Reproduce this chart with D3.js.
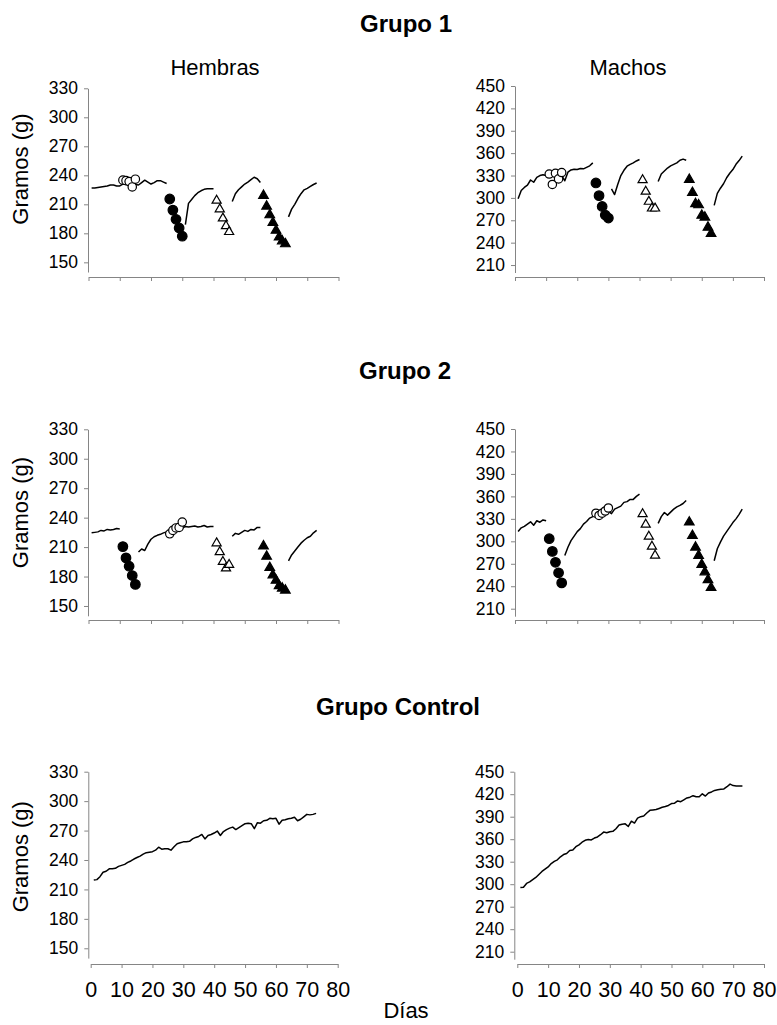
<!DOCTYPE html>
<html><head><meta charset="utf-8">
<script src="https://cdn.jsdelivr.net/npm/d3@7"></script>
<style>
body{margin:0;background:#fff}
svg{display:block}
text{font-family:Arial,"Liberation Sans",Helvetica,sans-serif;fill:#000}
</style>
</head><body>
<svg id="c" width="777" height="1025"></svg>
<script>
// ---------- tick labels ----------
const xTicks = [0,10,20,30,40,50,60,70,80];
const yTicksH = [150,180,210,240,270,300,330];
const yTicksM = [210,240,270,300,330,360,390,420,450];

// ---------- Grupo 1 – Hembras ----------
const g1H_line1 = [227,227,227.5,228,228.5,229,230,230,229,229,231,231,231,231,230.5,230,232.5,235,233,231,232.5,234.5,234.5,233,231.5]; // days 1-25
const g1H_openCirc = [235,234.5,233.5,228,236];            // days 11-15
const g1H_fillCirc = [215.5,204,194.5,185.5,177];          // days 26-30
const g1H_line2 = [189,211,215,219,222,224,225.5,226,226,226]; // days 31-40
const g1H_openTri = [214,205,195.5,187.5,181.5];           // days 41-45
const g1H_line3 = [213,221,225,228,231,233,235.5,238,236.5,232.5]; // days 46-55
const g1H_fillTri = [219,208,199,191,183,176,172,169];     // days 56-63
const g1H_line4 = [197,205,210,216,221,225,226.5,228.5,230.5,232]; // days 64-73

// ---------- Grupo 1 – Machos ----------
const g1M_line1 = [299,310,314,317,324,321,327.5,330,331,330,331,332,333,333,330,323,334.5,337.5,338.5,338,339.5,339,341,343,347]; // days 1-25
const g1M_openCirc = [332,318,333,325.5,334];              // days 11-15
const g1M_fillCirc = [320,303,288.5,277,273];              // days 26-30
const g1M_line2 = [312,304.5,318,330,337,342.5,345,347,349.5,351.5]; // days 31-40
const g1M_openTri = [324,308.5,295,286,286];               // days 41-45
const g1M_line3 = [322,332,336,340,343,345,347,350.5,352,350.5]; // days 46-55
const g1M_fillTri = [324.5,307,292,290.5,276.5,274,260.5,252]; // days 56-63
const g1M_line4 = [290,306,313,319,327,333,338,345,350,356]; // days 64-73

// ---------- Grupo 2 – Hembras ----------
const g2H_line1 = [224.5,225,225.5,227,226.5,228,227.5,228,229,228.5]; // days 1-10
const g2H_fillCirc = [210.5,199,190.5,181,172];            // days 11-15
const g2H_line2 = [205,208,206.5,213,218,220.5,222,223,224.5,225.5,226.5,227,228,229,229.5,231,230.5,231,231.5,230.5,231,232,230.5,231,231]; // days 16-40
const g2H_openCirc = [223.5,227,229.5,230,235.5];          // days 26-30
const g2H_openTri = [214,205,195,188.5,192];               // days 41-45
const g2H_line3 = [221,224,223,225,227,226,228,227.5,230,230]; // days 46-55
const g2H_fillTri = [211,200.5,189,181.5,176,170.5,168,166]; // days 56-63
const g2H_line4 = [196,202,206,210,214,217,219.5,221,224.5,227]; // days 64-73

// ---------- Grupo 2 – Machos ----------
const g2M_line1 = [313,318,320,323,326,321.5,327.5,325.5,328.5,327.5]; // days 1-10
const g2M_fillCirc = [303.5,286.5,272,258,244.5];          // days 11-15
const g2M_line2 = [281,292,301,307,313,317,323,326.5,331,333,334,335,337,339,340,337,343,345,347,352,353,356,356,360,363]; // days 16-40
const g2M_openCirc = [337.5,334.5,337.5,340.5,344.5];      // days 26-30
const g2M_openTri = [336.5,322.5,306.5,293,281];           // days 41-45
const g2M_line3 = [324,333,338.5,335,339,343,346,348,350.5,354.5]; // days 46-55
const g2M_fillTri = [325.5,307.5,292,281,269,259,248.5,238]; // days 56-63
const g2M_line4 = [274,290,299,307,313,319,325,330,336,343]; // days 64-73

// ---------- Grupo Control ----------
const ctlH = [219.5,220,223,227.5,228.5,231,231,231.5,233.5,234.5,235.5,237.5,239,241,242.5,244,246,247.5,248,248.5,
  250,253,251,251.5,251.5,250,253.5,256.5,257.5,258.5,258.5,259,261.5,263,264,266,261.5,265,266,267.5,
  269.5,265,269,271,272.5,273.5,271,273,275,277,277.5,277,272,278,277.5,280,280.5,282.5,282,282.5,
  276.5,280.5,281,282,282.5,283.5,280,281.5,284,286.5,286,286.5,287.5]; // days 1-73
const ctlM = [295.5,296,301,303,306,309,313,317,320,323,327.5,330.5,332.5,336.5,339.5,341,345,345.5,350,352.5,
  356,358.5,359.5,359,361.5,363,366,369.5,368.5,370,370.5,374,379,380,380.5,377,384,381.5,388,390,
  391,395,398.5,399,399.5,401,402.5,403.5,405,407.5,408,411,410,412.5,415,416,418,416.5,416.5,420.5,
  417.5,421.5,423,425,426,426.5,427,430,433.5,431.5,431,431,431]; // days 1-73

// ---------- drawing ----------
const svg = d3.select("#c");
const AX = "#858585";

function panel(p){
  const x = d3.scaleLinear().domain([0,80]).range(p.xr);
  const y = d3.scaleLinear().domain(p.yd).range(p.yr);
  const g = svg.append("g");

  const ya = g.append("g").attr("transform",`translate(${p.ax},0)`)
    .call(d3.axisLeft(y).tickValues(p.yt).tickSize(4).tickSizeOuter(0).tickPadding(6));
  ya.selectAll("path,line").attr("stroke",AX).attr("stroke-width",1);
  ya.selectAll("text").attr("font-size","17.5px").attr("fill","#000")
    .style("font-family","Arial, 'Liberation Sans', sans-serif");

  const xa = g.append("g").attr("transform",`translate(0,${p.xy})`)
    .call(d3.axisBottom(x).tickValues(xTicks).tickSize(4).tickSizeOuter(0)
      .tickFormat(p.lab ? d3.format("d") : () => ""));
  xa.selectAll("path,line").attr("stroke",AX).attr("stroke-width",1);
  xa.selectAll("text").attr("font-size","21.5px").attr("fill","#000").attr("dy",null).attr("y",33)
    .style("font-family","Arial, 'Liberation Sans', sans-serif");

  const line = d3.line().x(d => x(d[0])).y(d => y(d[1]));
  p.lines.forEach(([s, vals]) => {
    g.append("path").datum(vals.map((v,i) => [s+i, v]))
      .attr("d", line).attr("fill","none").attr("stroke","#000")
      .attr("stroke-width",1.5).attr("stroke-linejoin","round");
  });

  const shapes = {
    fc: {sym: d3.symbolCircle, size: 72, fill: "#000"},
    oc: {sym: d3.symbolCircle, size: 55, fill: "#fff"},
    ft: {sym: d3.symbolTriangle, size: 40, fill: "#000"},
    ot: {sym: d3.symbolTriangle, size: 36, fill: "#fff"}
  };
  p.marks.forEach(([s, vals, type]) => {
    const sh = shapes[type];
    g.selectAll(null).data(vals.map((v,i) => [s+i, v])).enter().append("path")
      .attr("transform", d => `translate(${x(d[0])},${y(d[1])})`)
      .attr("d", d3.symbol(sh.sym, sh.size))
      .attr("fill", sh.fill).attr("stroke","#000").attr("stroke-width",1.2);
  });
}

// Row 1 – Grupo 1
panel({xr:[88.5,338.5], ax:88, yd:[140,330], yr:[272,88.3], yt:yTicksH, xy:277, lab:false,
  lines:[[1,g1H_line1],[31,g1H_line2],[46,g1H_line3],[64,g1H_line4]],
  marks:[[11,g1H_openCirc,"oc"],[26,g1H_fillCirc,"fc"],[41,g1H_openTri,"ot"],[56,g1H_fillTri,"ft"]]});
panel({xr:[515,764], ax:515, yd:[200,450], yr:[272.5,86], yt:yTicksM, xy:277, lab:false,
  lines:[[1,g1M_line1],[31,g1M_line2],[46,g1M_line3],[64,g1M_line4]],
  marks:[[11,g1M_openCirc,"oc"],[26,g1M_fillCirc,"fc"],[41,g1M_openTri,"ot"],[56,g1M_fillTri,"ft"]]});

// Row 2 – Grupo 2
panel({xr:[88.5,338.5], ax:88, yd:[140,330], yr:[615.8,429.3], yt:yTicksH, xy:620, lab:false,
  lines:[[1,g2H_line1],[16,g2H_line2],[46,g2H_line3],[64,g2H_line4]],
  marks:[[11,g2H_fillCirc,"fc"],[26,g2H_openCirc,"oc"],[41,g2H_openTri,"ot"],[56,g2H_fillTri,"ft"]]});
panel({xr:[515,764], ax:515, yd:[200,450], yr:[616.2,429], yt:yTicksM, xy:620, lab:false,
  lines:[[1,g2M_line1],[16,g2M_line2],[46,g2M_line3],[64,g2M_line4]],
  marks:[[11,g2M_fillCirc,"fc"],[26,g2M_openCirc,"oc"],[41,g2M_openTri,"ot"],[56,g2M_fillTri,"ft"]]});

// Row 3 – Grupo Control
panel({xr:[90.7,337.7], ax:88.3, yd:[140,330], yr:[958.1,771.7], yt:yTicksH, xy:964, lab:true,
  lines:[[1,ctlH]], marks:[]});
panel({xr:[517.3,764], ax:514.3, yd:[200,450], yr:[959.2,771.7], yt:yTicksM, xy:964, lab:true,
  lines:[[1,ctlM]], marks:[]});

// ---------- titles & labels ----------
function txt(x, y, s, size, bold){
  svg.append("text").attr("x",x).attr("y",y).attr("text-anchor","middle")
    .attr("font-size",size+"px").attr("font-weight",bold?"bold":"normal").text(s);
}
txt(406, 32, "Grupo 1", 24, true);
txt(215, 75, "Hembras", 22, false);
txt(628, 75, "Machos", 22, false);
txt(405, 379, "Grupo 2", 24, true);
txt(398, 715, "Grupo Control", 24, true);
txt(406, 1018, "Días", 22, false);
[169, 512.5, 856.7].forEach(cy => {
  svg.append("text").attr("transform",`translate(27.5,${cy}) rotate(-90)`)
    .attr("text-anchor","middle").attr("font-size","22px").text("Gramos (g)");
});
</script>
</body></html>
